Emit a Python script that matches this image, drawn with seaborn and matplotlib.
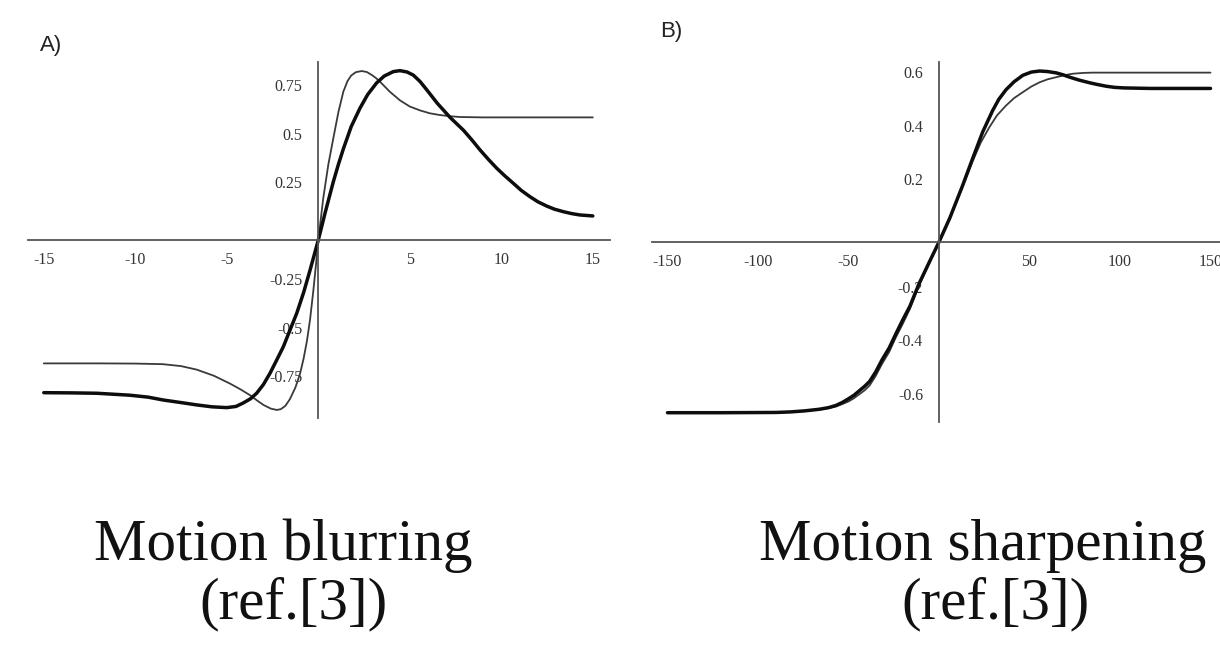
import numpy as np
import pandas as pd
import matplotlib
matplotlib.use("Agg")
import matplotlib.pyplot as plt
import matplotlib.transforms as mtransforms
import seaborn as sns
from matplotlib.ticker import FixedLocator, MultipleLocator

# ---------------- data ----------------
# Panel A: motion blurring
a_thin_x = [-15.0, -12.0, -10.0, -8.5, -7.5, -6.65, -5.7, -4.83, -4.25, -3.73, -3.35, -3.0, -2.6,
            -2.27, -2.05, -1.8, -1.55, -1.25, -1.0, -0.8, -0.62, -0.45, -0.27, -0.12, 0.0,
            0.27, 0.55, 0.82, 1.1, 1.37, 1.6, 1.8, 2.05, 2.37, 2.65, 2.9, 3.15, 3.37, 3.9,
            4.46, 5.0, 5.56, 6.1, 6.65, 7.2, 7.74, 9.0, 12.0, 15.0]
a_thin_y = [-0.636, -0.636, -0.637, -0.640, -0.650, -0.668, -0.700, -0.740, -0.770, -0.800, -0.827, -0.850, -0.869,
            -0.876, -0.872, -0.855, -0.820, -0.760, -0.690, -0.610, -0.520, -0.410, -0.260, -0.120, 0.0,
            0.215, 0.390, 0.524, 0.660, 0.765, 0.820, 0.848, 0.865, 0.871, 0.866, 0.852, 0.835, 0.816, 0.765,
            0.720, 0.688, 0.668, 0.653, 0.644, 0.638, 0.634, 0.632, 0.632, 0.632]

a_thick_x = [-15.0, -13.5, -12.1, -10.3, -9.3, -8.46, -7.5, -6.65, -5.8, -5.0, -4.5, -4.1, -3.7,
             -3.37, -3.0, -2.64, -2.28, -1.91, -1.55, -1.18, -0.8, -0.45, 0.0, 0.4, 0.82, 1.1,
             1.37, 1.8, 2.28, 2.7, 3.19, 3.6, 4.1, 4.46, 4.85, 5.19, 5.55, 5.92, 6.5, 7.2,
             7.94, 8.4, 8.84, 9.3, 9.75, 10.2, 10.66, 11.1, 11.57, 12.0, 12.48, 12.9, 13.39,
             13.85, 14.3, 15.0]
a_thick_y = [-0.787, -0.788, -0.790, -0.800, -0.810, -0.825, -0.838, -0.850, -0.860, -0.864, -0.858, -0.840, -0.818,
             -0.790, -0.745, -0.687, -0.620, -0.550, -0.465, -0.378, -0.270, -0.155, 0.0, 0.150, 0.300, 0.390,
             0.470, 0.585, 0.680, 0.750, 0.810, 0.845, 0.868, 0.873, 0.866, 0.850, 0.818, 0.775, 0.705, 0.632,
             0.565, 0.515, 0.464, 0.415, 0.370, 0.330, 0.292, 0.255, 0.223, 0.197, 0.175, 0.159, 0.146,
             0.136, 0.129, 0.124]

# Panel B: motion sharpening
b_thin_x = [-150, -120, -90, -82, -74, -66, -61, -57, -53.5, -50, -47, -44, -41, -38.3, -35, -31.5,
            -27.5, -24, -20, -16.1, -11, -5, 0, 6, 13, 18.5, 23, 27.8, 32, 37, 41.5, 46.3, 51,
            55.6, 60, 64.8, 69, 74, 80, 85, 110, 150]
b_thin_y = [-0.637, -0.637, -0.636, -0.634, -0.630, -0.625, -0.620, -0.614, -0.605, -0.595, -0.583, -0.568, -0.553, -0.535, -0.500, -0.455,
            -0.410, -0.358, -0.305, -0.250, -0.162, -0.073, 0.0, 0.090, 0.205, 0.300, 0.370, 0.428, 0.472, 0.509, 0.537, 0.559, 0.580,
            0.596, 0.607, 0.615, 0.622, 0.628, 0.631, 0.632, 0.632, 0.632]

b_thick_x = [-150, -120, -90, -82, -74, -66, -61, -57, -53.5, -50, -47, -44, -41, -38.3, -35, -31.5,
             -27.5, -24, -20, -16.1, -11, -5, 0, 6, 13, 18.5, 24.1, 29.6, 33, 37, 41.5, 46.3, 51,
             55.6, 60, 64.8, 68.5, 72.2, 77.5, 83.3, 88, 92.6, 97, 101.9, 109, 116.7, 150]
b_thick_y = [-0.637, -0.637, -0.636, -0.634, -0.630, -0.624, -0.618, -0.610, -0.599, -0.585, -0.572, -0.555, -0.538, -0.520, -0.485, -0.440,
             -0.395, -0.345, -0.290, -0.240, -0.155, -0.070, 0.0, 0.090, 0.210, 0.310, 0.410, 0.490, 0.532, 0.568, 0.598, 0.622, 0.634,
             0.638, 0.636, 0.631, 0.624, 0.615, 0.604, 0.594, 0.587, 0.581, 0.577, 0.575, 0.574, 0.573, 0.573]

a_xticks = [-15, -10, -5, 5, 10, 15]
a_xlabels = ["-15", "-10", "-5", "5", "10", "15"]
a_yticks = [-0.75, -0.5, -0.25, 0.25, 0.5, 0.75]
a_ylabels = ["-0.75", "-0.5", "-0.25", "0.25", "0.5", "0.75"]
b_xticks = [-150, -100, -50, 50, 100, 150]
b_xlabels = ["-150", "-100", "-50", "50", "100", "150"]
b_yticks = [-0.6, -0.4, -0.2, 0.2, 0.4, 0.6]
b_ylabels = ["-0.6", "-0.4", "-0.2", "0.2", "0.4", "0.6"]

panel_labels = ["A)", "B)"]
captions = [("Motion blurring", "(ref.[3])"), ("Motion sharpening", "(ref.[3])")]

# ---------------- figure ----------------
sns.set_style("white")
plt.rcParams["font.family"] = ["Liberation Serif", "DejaVu Serif"]

W, H = 1220, 648
fig = plt.figure(figsize=(W / 100, H / 100), dpi=100)

def pos(x0, x1, y0, y1):
    return [x0 / W, 1 - y1 / H, (x1 - x0) / W, (y1 - y0) / H]

axA = fig.add_axes(pos(28, 610, 62, 418))
axB = fig.add_axes(pos(652, 1220, 62, 422))

thin_c, thick_c = "#3a3a3a", "#0d0d0d"
dA_thin = pd.DataFrame({"x": a_thin_x, "y": a_thin_y})
dA_thick = pd.DataFrame({"x": a_thick_x, "y": a_thick_y})
dB_thin = pd.DataFrame({"x": b_thin_x, "y": b_thin_y})
dB_thick = pd.DataFrame({"x": b_thick_x, "y": b_thick_y})

for ax, dthin, dthick in [(axA, dA_thin, dA_thick), (axB, dB_thin, dB_thick)]:
    sns.lineplot(data=dthin, x="x", y="y", ax=ax, color=thin_c, linewidth=1.3,
                 estimator=None, sort=False)
    sns.lineplot(data=dthick, x="x", y="y", ax=ax, color=thick_c, linewidth=2.5,
                 estimator=None, sort=False)
    for ln in ax.lines:
        ln.set_solid_joinstyle("round")
        ln.set_solid_capstyle("round")

axA.set_xlim((28 - 318.3) / 18.3, (610 - 318.3) / 18.3)
axA.set_ylim(-(418 - 240) / 194, (240 - 62) / 194)
axB.set_xlim((652 - 939) / 1.81, (1220 - 939) / 1.81)
axB.set_ylim(-(422 - 242) / 268, (242 - 62) / 268)

ylab_shift = mtransforms.ScaledTranslation(0, 6.5 / 72, fig.dpi_scale_trans)

def style(ax, xt, xl, yt, yl, xminor, yminor):
    for s in ["top", "right"]:
        ax.spines[s].set_visible(False)
    for s in ["left", "bottom"]:
        ax.spines[s].set_position(("data", 0))
        ax.spines[s].set_color("#555555")
        ax.spines[s].set_linewidth(1.3)
    ax.xaxis.set_major_locator(FixedLocator(xt))
    ax.set_xticklabels(xl)
    ax.yaxis.set_major_locator(FixedLocator(yt))
    ax.set_yticklabels(yl)
    ax.xaxis.set_minor_locator(MultipleLocator(xminor))
    ax.yaxis.set_minor_locator(MultipleLocator(yminor))
    ax.tick_params(which="major", direction="inout", length=5, width=1.0,
                   color="#555555", labelsize=11.5, labelcolor="#333333")
    ax.tick_params(which="minor", direction="inout", length=2.5, width=0.8,
                   color="#777777")
    ax.tick_params(axis="x", which="major", pad=6)
    ax.tick_params(axis="y", which="major", pad=9)
    ax.set_xlabel("")
    ax.set_ylabel("")
    ax.set_facecolor("none")
    for lab in ax.get_yticklabels():
        lab.set_transform(lab.get_transform() + ylab_shift)

style(axA, a_xticks, a_xlabels, a_yticks, a_ylabels, 1, 0.05)
style(axB, b_xticks, b_xlabels, b_yticks, b_ylabels, 10, 0.05)

# panel labels
fig.text(40 / W, 1 - 45 / H, panel_labels[0], family=["Liberation Sans", "DejaVu Sans"],
         fontsize=16, color="#222222", ha="left", va="center")
fig.text(660 / W, 1 - 31 / H, panel_labels[1], family=["Liberation Sans", "DejaVu Sans"],
         fontsize=16, color="#222222", ha="left", va="center")

# captions
cap_pos = [(283, 294), (983, 995)]
for (l1, l2), (cx1, cx2) in zip(captions, cap_pos):
    fig.text(cx1 / W, 1 - 560 / H, l1, fontsize=42.5, color="#111111",
             ha="center", va="baseline")
    fig.text(cx2 / W, 1 - 618 / H, l2, fontsize=42.5, color="#111111",
             ha="center", va="baseline")

fig.savefig("out.png", dpi=100, facecolor="white")
